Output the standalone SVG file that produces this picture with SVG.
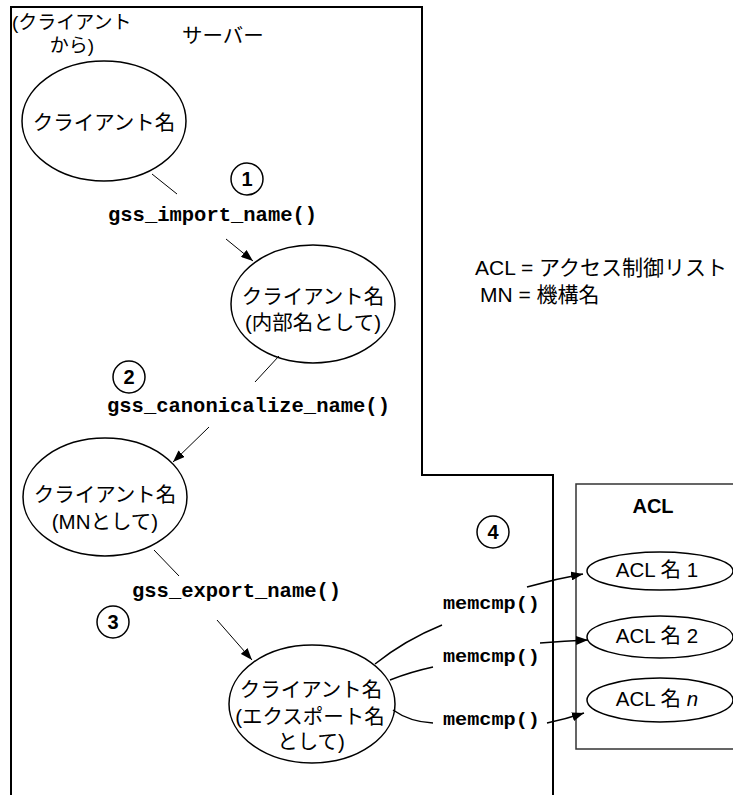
<svg xmlns="http://www.w3.org/2000/svg" width="733" height="795" viewBox="0 0 733 795">
<defs>
<style>
.jp{font-family:"Liberation Sans","Noto Sans CJK JP",sans-serif;fill:#000}
.n{font-size:20.5px;text-anchor:middle}
.code{font-family:"Liberation Mono","Courier New",monospace;font-weight:bold;font-size:20.5px;fill:#000}
.mem{font-family:"Liberation Mono","Courier New",monospace;font-weight:bold;font-size:19px;fill:#000}
.ell{fill:#fff;stroke:#000;stroke-width:1.5}
.num{fill:#fff;stroke:#000;stroke-width:1.5}
.numt{font-family:"Liberation Sans",sans-serif;font-weight:bold;font-size:20px;text-anchor:middle;fill:#000}
.ln{fill:none;stroke:#000;stroke-width:1}
.cv{fill:none;stroke:#000;stroke-width:1.5}
</style>
<marker id="ah" markerUnits="userSpaceOnUse" markerWidth="13" markerHeight="9" refX="12" refY="4.5" orient="auto">
<path d="M0,0 L12,4.5 L0,9 z" fill="#000"/>
</marker>
</defs>
<rect width="733" height="795" fill="#fff"/>
<g id="server">
<path d="M11,795 L11,7 L422,7 L422,475 L553,475 L553,795" fill="none" stroke="#000" stroke-width="2"/>
<text class="jp" x="182" y="43" font-size="20.5">サーバー</text>
<text class="jp" x="12" y="29" font-size="19">(クライアント</text>
<text class="jp" x="72" y="52" font-size="19" text-anchor="middle">から)</text>
</g>
<g id="legend">
<text class="jp" x="475" y="275" font-size="21">ACL = アクセス制御リスト</text>
<text class="jp" x="480" y="302" font-size="21">MN = 機構名</text>
</g>
<g id="acl">
<rect x="576" y="484" width="170" height="265" fill="none" stroke="#333" stroke-width="1.5"/>
<text class="jp" x="653" y="513" font-size="20" font-weight="bold" text-anchor="middle">ACL</text>
</g>
<g id="acl1">
<ellipse class="ell" cx="660" cy="571" rx="73" ry="19"/>
<text class="jp n" x="657" y="577">ACL 名 1</text>
</g>
<g id="acl2">
<ellipse class="ell" cx="660" cy="637" rx="73" ry="21"/>
<text class="jp n" x="657" y="643">ACL 名 2</text>
</g>
<g id="acln">
<ellipse class="ell" cx="660" cy="700" rx="73" ry="22"/>
<text class="jp n" x="657" y="706">ACL 名 <tspan font-style="italic">n</tspan></text>
</g>
<g id="n1">
<ellipse class="ell" cx="104" cy="121" rx="82" ry="60"/>
<text class="jp n" x="104" y="130">クライアント名</text>
</g>
<g id="n2">
<ellipse class="ell" cx="313" cy="304" rx="82" ry="59"/>
<text class="jp n" x="313" y="304">クライアント名</text>
<text class="jp n" x="313" y="330">(内部名として)</text>
</g>
<g id="n3">
<ellipse class="ell" cx="105" cy="497" rx="82" ry="59"/>
<text class="jp n" x="105" y="502">クライアント名</text>
<text class="jp n" x="105" y="529">(MNとして)</text>
</g>
<g id="n4">
<ellipse class="ell" cx="312" cy="704" rx="83" ry="59"/>
<text class="jp n" x="311" y="697">クライアント名</text>
<text class="jp n" x="310" y="724">(エクスポート名</text>
<text class="jp n" x="311" y="749">として)</text>
</g>
<g id="steps">
<circle class="num" cx="247" cy="179" r="16"/><text class="numt" x="247" y="186">1</text>
<circle class="num" cx="129" cy="377" r="16"/><text class="numt" x="129" y="384">2</text>
<circle class="num" cx="113" cy="622" r="16"/><text class="numt" x="113" y="629">3</text>
<circle class="num" cx="493" cy="532" r="16"/><text class="numt" x="493" y="539">4</text>
</g>
<g id="labels">
<text class="code" x="108" y="221">gss_import_name()</text>
<text class="code" x="107" y="412">gss_canonicalize_name()</text>
<text class="code" x="132" y="597">gss_export_name()</text>
<text class="mem" x="443" y="609" textLength="97" lengthAdjust="spacingAndGlyphs">memcmp()</text>
<text class="mem" x="443" y="662" textLength="97" lengthAdjust="spacingAndGlyphs">memcmp()</text>
<text class="mem" x="443" y="725" textLength="97" lengthAdjust="spacingAndGlyphs">memcmp()</text>
</g>
<g id="connectors">
<line class="ln" x1="152" y1="174" x2="177" y2="194"/>
<line class="ln" x1="226" y1="239" x2="253" y2="261" marker-end="url(#ah)"/>
<line class="ln" x1="279" y1="356" x2="255" y2="382"/>
<line class="ln" x1="209" y1="427" x2="173" y2="462" marker-end="url(#ah)"/>
<line class="ln" x1="154" y1="550" x2="179" y2="576"/>
<line class="ln" x1="217" y1="620" x2="252" y2="660" marker-end="url(#ah)"/>
<path class="cv" d="M375,664 Q405,640 442,625"/>
<path class="cv" d="M527,587 Q555,579 583,574" marker-end="url(#ah)"/>
<path class="cv" d="M390,680 Q410,672 433,667"/>
<path class="cv" d="M540,643 Q565,641 588,640" marker-end="url(#ah)"/>
<path class="cv" d="M393,710 Q410,722 433,723"/>
<path class="cv" d="M547,723 Q566,719 584,713" marker-end="url(#ah)"/>
</g>
</svg>
